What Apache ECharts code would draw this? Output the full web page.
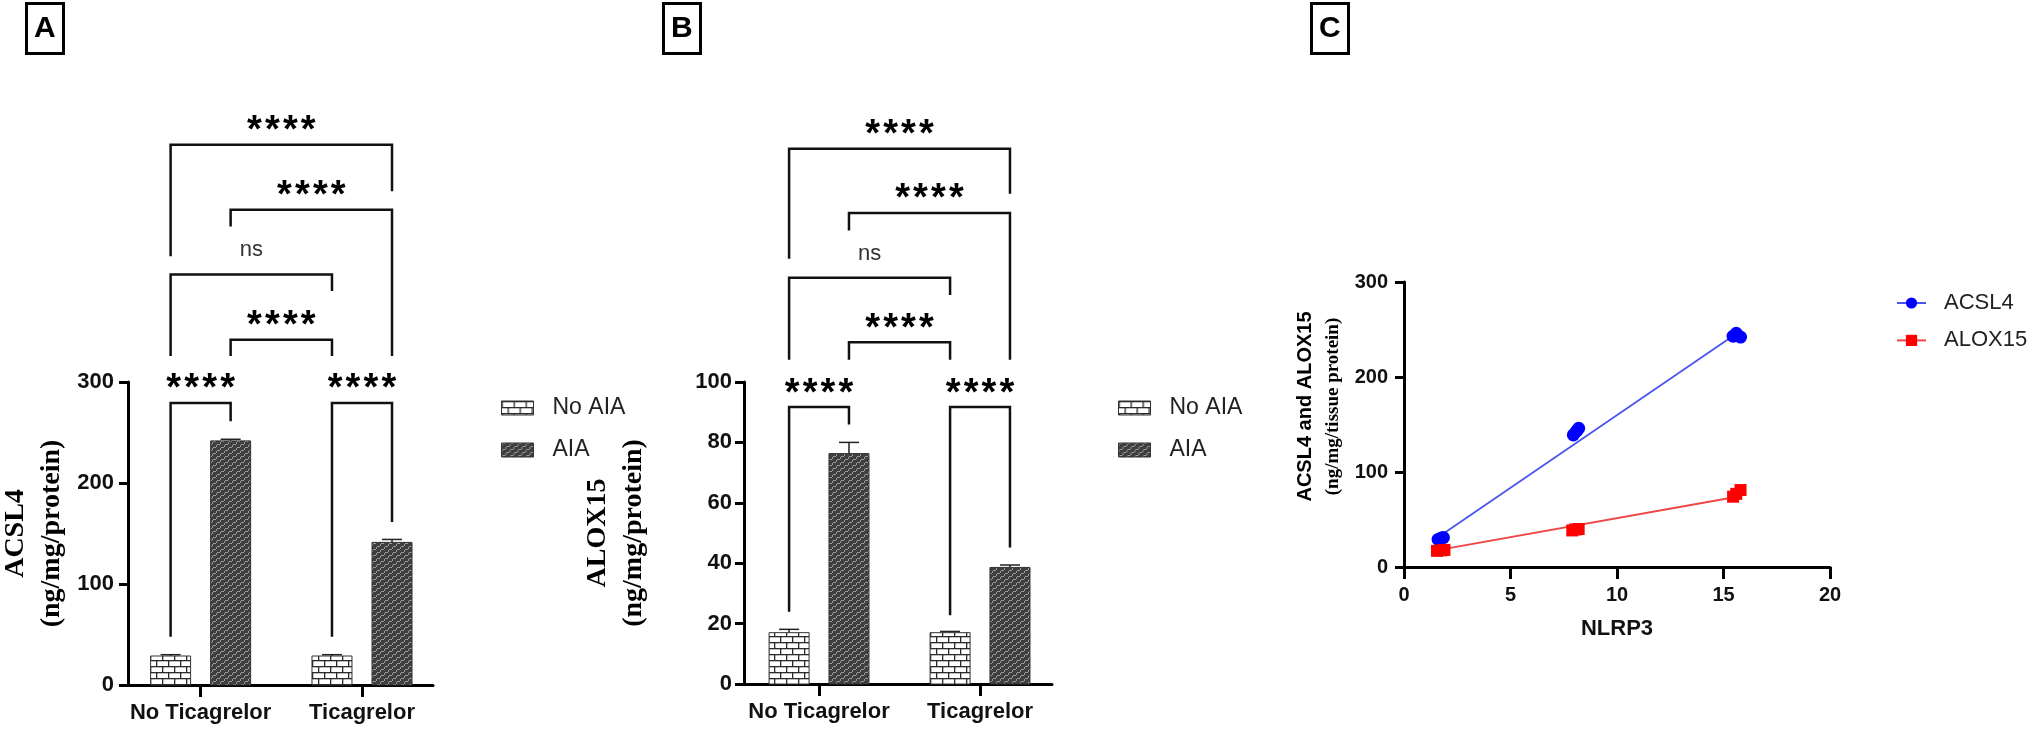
<!DOCTYPE html>
<html><head><meta charset="utf-8">
<script src="https://cdn.jsdelivr.net/npm/echarts@6/dist/echarts.min.js"></script>
<style>html,body{margin:0;padding:0;background:#fff}#c{width:2032px;height:730px}</style>
</head><body><div id="c"></div>
<script>
// ---------------- data ----------------
const categories = ['No Ticagrelor', 'Ticagrelor'];
const groupNames = ['No AIA', 'AIA'];
const acsl4NoAIA = [28.7, 28.7];
const acsl4NoAIAErr = [1.3, 1.3];
const acsl4AIA = [241.7, 141.2];
const acsl4AIAErr = [1.6, 2.9];
const alox15NoAIA = [17.0, 17.0];
const alox15NoAIAErr = [1.1, 0.4];
const alox15AIA = [76.3, 38.6];
const alox15AIAErr = [3.7, 0.8];
// significance brackets: [leftBar, rightBar, top, leftLegEnd, rightLegEnd] (bars 0..3, values in axis units)
const bracketsA = [
  [0, 3, 534.8, 424.6, 488.9],
  [1, 3, 470.5, 454.0, 325.7],
  [0, 2, 406.5, 325.7, 390.0],
  [1, 2, 341.9, 325.7, 325.7],
  [0, 1, 279.2, 47.8, 261.1],
  [2, 3, 279.2, 47.8, 161.5]
];
const bracketsB = [
  [0, 3, 177.2, 140.8, 162.3],
  [1, 3, 156.0, 150.2, 107.4],
  [0, 2, 134.5, 107.4, 128.8],
  [1, 2, 113.2, 107.4, 107.4],
  [0, 1, 91.7, 23.9, 85.9],
  [2, 3, 91.7, 22.8, 45.2]
];
const bracketLabels = ['****', '****', 'ns', '****', '****', '****'];
// panel C: NLRP3 vs ACSL4 / ALOX15
const corrNames = ['ACSL4', 'ALOX15'];
const nlrp3Acsl4 = [[1.6, 29], [1.75, 30.5], [1.85, 31], [7.95, 139], [8.1, 143], [8.2, 146], [15.45, 243], [15.6, 246], [15.8, 242]];
const nlrp3Alox15 = [[1.55, 17], [1.75, 17.5], [1.9, 18], [7.9, 38.5], [8.05, 39.5], [8.2, 40], [15.45, 74], [15.6, 77], [15.8, 81]];
const fitAcsl4 = [[1.65, 32], [15.7, 247]];
const fitAlox15 = [[1.65, 18], [15.7, 74.2]];

// ---------------- style helpers ----------------
const SANS = "'Liberation Sans', Arial, sans-serif";
const SERIF = "'Liberation Serif', 'Times New Roman', serif";
const BAR_OFFSET = 0.186;
const BAR_W = 40, CAP_W = 20;

function brickCanvas() {
  const c = document.createElement('canvas'); c.width = 12; c.height = 12;
  const g = c.getContext('2d');
  g.fillStyle = '#ffffff'; g.fillRect(0, 0, 12, 12);
  g.fillStyle = '#2a2a2a';
  g.fillRect(0, 0, 12, 1.3); g.fillRect(0, 6, 12, 1.3);
  g.fillRect(0, 0, 1.3, 6); g.fillRect(6, 6, 1.3, 6);
  return c;
}
function weaveCanvas() {
  const c = document.createElement('canvas'); c.width = 8; c.height = 6;
  const g = c.getContext('2d');
  g.fillStyle = '#3f3f3f'; g.fillRect(0, 0, 8, 6);
  g.fillStyle = '#9a9a9a';
  g.fillRect(1, 0, 3, 1); g.fillRect(5, 3, 3, 1);
  g.fillRect(0, 1, 1, 2); g.fillRect(4, 4, 1, 2);
  return c;
}
const brickFill = { image: brickCanvas(), repeat: 'repeat' };
const weaveFill = { image: weaveCanvas(), repeat: 'repeat' };

function barX(i) { return Math.floor(i / 2) + (i % 2 === 0 ? -BAR_OFFSET : BAR_OFFSET); }

function makeBarRender(side, fill) {
  return function (params, api) {
    const x = api.value(0) + side * BAR_OFFSET;
    const v = api.value(1), e = api.value(2);
    const top = api.coord([x, v]);
    const base = api.coord([x, 0]);
    const et = api.coord([x, v + e]);
    return { type: 'group', children: [
      { type: 'line', shape: { x1: top[0], y1: top[1], x2: top[0], y2: et[1] }, style: { stroke: '#222', lineWidth: 1.5 } },
      { type: 'line', shape: { x1: top[0] - CAP_W / 2, y1: et[1], x2: top[0] + CAP_W / 2, y2: et[1] }, style: { stroke: '#222', lineWidth: 1.5 } },
      { type: 'rect', shape: { x: top[0] - BAR_W / 2, y: top[1], width: BAR_W, height: base[1] - top[1] },
        style: { fill: fill, stroke: '#333', lineWidth: 1 } }
    ]};
  };
}
function makeBracketRender() {
  return function (params, api) {
    const xl = barX(api.value(0)), xr = barX(api.value(1));
    const t = api.value(2);
    const pTL = api.coord([xl, t]), pTR = api.coord([xr, t]);
    const pL = api.coord([xl, api.value(3)]), pR = api.coord([xr, api.value(4)]);
    const lab = bracketLabels[params.dataIndex];
    const ns = lab === 'ns';
    return { type: 'group', children: [
      { type: 'polyline', shape: { points: [pL, pTL, pTR, pR] }, style: { stroke: '#111', lineWidth: 2.5, fill: null } },
      { type: 'text', x: (pTL[0] + pTR[0]) / 2, y: pTL[1] - (ns ? 24 : 13),
        style: { text: ns ? lab : lab.split('').join('\u200A'), fill: ns ? '#333' : '#000',
          font: ns ? "22px " + SANS : "bold 38px " + SANS, align: 'center', verticalAlign: 'middle' } }
    ]};
  };
}

function barSeries(name, side, fill, vals, errs, axis) {
  return { type: 'custom', name: name, xAxisIndex: axis, yAxisIndex: axis, clip: false,
    itemStyle: { color: fill, borderColor: '#333', borderWidth: 1 },
    encode: { x: 0, y: 1 },
    renderItem: makeBarRender(side, fill),
    data: categories.map((c, i) => [i, vals[i], errs[i]]) };
}
function bracketSeries(brs, axis) {
  return { type: 'custom', name: 'sig' + axis, xAxisIndex: axis, yAxisIndex: axis, clip: false, silent: true,
    renderItem: makeBracketRender(), encode: { x: 0, y: 2 }, data: brs };
}

const axisLine = { show: true, onZero: false, lineStyle: { color: '#000', width: 3 } };
const tickStyle = { color: '#000', width: 3 };
function catXAxis(grid, min, max) {
  return { type: 'value', gridIndex: grid, min: min, max: max,
    axisLine: axisLine, splitLine: { show: false },
    axisTick: { show: true, length: 12, lineStyle: tickStyle, customValues: [0, 1] },
    axisLabel: { customValues: [0, 1], margin: 17, formatter: v => categories[Math.round(v)],
      fontSize: 22, fontWeight: 'bold', fontFamily: SANS, color: '#111' } };
}
function valYAxis(grid, max, interval, margin, fs, nameStr, nameGap, rich, namePad) {
  return { type: 'value', gridIndex: grid, min: 0, max: max, interval: interval,
    axisLine: axisLine, splitLine: { show: false },
    axisTick: { show: true, length: 9, lineStyle: tickStyle },
    axisLabel: { margin: margin, fontSize: fs, fontWeight: 'bold', fontFamily: SANS, color: '#111' },
    name: nameStr, nameLocation: 'middle', nameRotate: 90, nameGap: nameGap,
    nameTextStyle: { rich: rich, padding: namePad || 0 } };
}
const richAB = {
  a: { fontFamily: SERIF, fontWeight: 'bold', fontSize: 28, lineHeight: 36, color: '#000' },
  b: { fontFamily: SERIF, fontWeight: 'bold', fontSize: 28, lineHeight: 36, color: '#000' }
};
const richC = {
  a: { fontFamily: SANS, fontWeight: 'bold', fontSize: 20, lineHeight: 28, color: '#000' },
  b: { fontFamily: SERIF, fontWeight: 'bold', fontSize: 19, lineHeight: 28, color: '#000' }
};

function panelTitle(t, left) {
  return { text: t, left: left, top: 3, padding: [10, 8], borderWidth: 3, borderColor: '#000',
    textStyle: { fontSize: 30, fontWeight: 'bold', fontFamily: SANS, color: '#000', lineHeight: 31 } };
}
function barLegend(left) {
  return { orient: 'vertical', left: left, top: 396, padding: 0, itemWidth: 32, itemHeight: 14, itemGap: 18,
    selectedMode: false,
    textStyle: { fontSize: 23, lineHeight: 24, color: '#222', fontFamily: SANS, padding: [0, 0, 0, 14] },
    data: [
      { name: groupNames[0], icon: 'rect', itemStyle: { color: brickFill, borderColor: '#333', borderWidth: 1 } },
      { name: groupNames[1], icon: 'rect', itemStyle: { color: weaveFill, borderColor: '#333', borderWidth: 1 } }
    ] };
}

const option = {
  backgroundColor: '#fff',
  animation: false,
  title: [panelTitle('A', 26), panelTitle('B', 663), panelTitle('C', 1311)],
  legend: [
    barLegend(501),
    barLegend(1118),
    { orient: 'vertical', left: 1896, top: 291, padding: 0, itemWidth: 29, itemHeight: 14, itemGap: 13.4, selectedMode: false,
      textStyle: { fontSize: 22, lineHeight: 24, color: '#222', fontFamily: SANS, padding: [0, 0, 0, 13] },
      data: corrNames }
  ],
  grid: [
    { left: 128, top: 382, width: 305, height: 303, containLabel: false, outerBoundsMode: 'none' },
    { left: 744, top: 382, width: 308, height: 302, containLabel: false, outerBoundsMode: 'none' },
    { left: 1404, top: 282, width: 426, height: 285, containLabel: false, outerBoundsMode: 'none' }
  ],
  xAxis: [
    catXAxis(0, -0.45, 1.44),
    catXAxis(1, -0.466, 1.447),
    { type: 'value', gridIndex: 2, min: 0, max: 20, interval: 5, axisLine: axisLine, splitLine: { show: false },
      axisTick: { show: true, length: 12, lineStyle: tickStyle },
      axisLabel: { margin: 18, fontSize: 20, fontWeight: 'bold', fontFamily: SANS, color: '#111' },
      name: 'NLRP3', nameLocation: 'middle', nameGap: 51,
      nameTextStyle: { fontSize: 22, fontWeight: 'bold', fontFamily: SANS, color: '#111' } }
  ],
  yAxis: [
    valYAxis(0, 300, 100, 14, 22, '{a|ACSL4}\n{b|(ng/mg/protein)}', 58, richAB),
    valYAxis(1, 100, 20, 12, 22, '{a|ALOX15}\n{b|(ng/mg/protein)}', 92, richAB),
    valYAxis(2, 300, 100, 16, 20, '{a|ACSL4 and ALOX15}\n{b|(ng/mg/tissue protein)}', 57, richC, [0, 0, 0, 36])
  ],
  series: [
    barSeries(groupNames[0], -1, brickFill, acsl4NoAIA, acsl4NoAIAErr, 0),
    barSeries(groupNames[1], 1, weaveFill, acsl4AIA, acsl4AIAErr, 0),
    bracketSeries(bracketsA, 0),
    barSeries(groupNames[0], -1, brickFill, alox15NoAIA, alox15NoAIAErr, 1),
    barSeries(groupNames[1], 1, weaveFill, alox15AIA, alox15AIAErr, 1),
    bracketSeries(bracketsB, 1),
    { type: 'line', name: corrNames[0], xAxisIndex: 2, yAxisIndex: 2, data: fitAcsl4, showSymbol: false,
      symbol: 'circle', symbolSize: 13, itemStyle: { color: '#0000ff' }, lineStyle: { color: '#4b55f0', width: 1.8 }, z: 2 },
    { type: 'line', name: corrNames[1], xAxisIndex: 2, yAxisIndex: 2, data: fitAlox15, showSymbol: false,
      symbol: 'rect', symbolSize: 12, itemStyle: { color: '#ff0000' }, lineStyle: { color: '#f04545', width: 1.8 }, z: 2 },
    { type: 'scatter', name: corrNames[0], xAxisIndex: 2, yAxisIndex: 2, data: nlrp3Acsl4,
      symbol: 'circle', symbolSize: 13, itemStyle: { color: '#0000ff', opacity: 1 }, z: 3 },
    { type: 'scatter', name: corrNames[1], xAxisIndex: 2, yAxisIndex: 2, data: nlrp3Alox15,
      symbol: 'rect', symbolSize: 12, itemStyle: { color: '#ff0000', opacity: 1 }, z: 3 }
  ]
};
const chart = echarts.init(document.getElementById('c'), null, { renderer: 'canvas' });
chart.setOption(option);
// second pass: re-run layout once every component exists (keeps the legends where they are set)
[0, 1, 2].forEach(function (k) {
  const lm = chart.getModel().getComponent('legend', k);
  const view = lm && chart.getViewOfComponentModel(lm);
  if (view) view.group.getBoundingRect();
});
chart.setOption({ graphic: [{ type: 'text', left: 0, top: 0, silent: true, style: { text: '' } }] });
</script></body></html>
